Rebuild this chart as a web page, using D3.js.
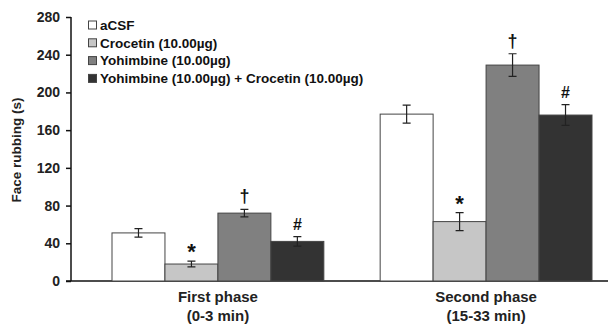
<!DOCTYPE html>
<html lang="en">
<head>
  <meta charset="UTF-8">
  <title>Face rubbing</title>
  <script src="https://d3js.org/d3.v7.min.js"></script>
  <style>
    body { margin: 0; background: #fff; }
    svg { font-family: Arial, "Liberation Sans", sans-serif; }
    .axis text { font-size: 14px; font-weight: bold; fill: #222; }
    .axis path, .axis line { stroke: #111; stroke-width: 1.5px; }
    .xlab text { font-size: 15px; font-weight: bold; fill: #222; }
    .legend text { font-size: 13.5px; font-weight: bold; fill: #111; }
  </style>
</head>
<body>
  <svg></svg>
  <script>
    const phases = ["First phase", "Second phase"];
    const phaseSub = ["(0-3 min)", "(15-33 min)"];
    const groups = ["aCSF", "Crocetin (10.00\u00b5g)", "Yohimbine (10.00\u00b5g)", "Yohimbine (10.00\u00b5g) + Crocetin (10.00\u00b5g)"];
    const colors = ["#ffffff", "#c6c6c6", "#808080", "#333333"];
    // values per group: [first phase, second phase]
    const means = [[51, 177], [18, 63], [72, 229], [42, 176]];
    const errs = [[4.5, 9.5], [3, 9.5], [4, 12], [5, 11]];
    const marks = ["", "*", "\u2020", "#"];
    const yTicks = [0, 40, 80, 120, 160, 200, 240, 280];

    const width = 608, height = 326;
    const svg = d3.select("svg").attr("width", width).attr("height", height);

    const y = d3.scaleLinear().domain([0, 280]).range([281, 17]);
    const x0 = d3.scaleBand().domain(phases).range([112, 592]).paddingInner(0.21).paddingOuter(0);
    const x1 = d3.scaleBand().domain(d3.range(groups.length)).range([0, x0.bandwidth()]);

    // y axis
    svg.append("g").attr("class", "axis").attr("transform", "translate(71,0)")
      .call(d3.axisLeft(y).tickValues(yTicks).tickSize(5).tickPadding(6).tickSizeOuter(0))
      .call(g => g.select(".domain").attr("d", "M0,281V17"));

    svg.append("text").attr("transform", "translate(21,150) rotate(-90)")
      .attr("text-anchor", "middle").style("font-size", "13.5px").style("font-weight", "bold").attr("fill", "#222")
      .text("Face rubbing (s)");

    // x baseline
    svg.append("line").attr("x1", 66).attr("x2", 608).attr("y1", y(0)).attr("y2", y(0))
      .attr("stroke", "#111").attr("stroke-width", 1.5);

    const rows = [];
    phases.forEach((p, pi) => groups.forEach((g, gi) => rows.push({ p, pi, gi, v: means[gi][pi], e: errs[gi][pi] })));

    const bar = svg.append("g").selectAll("g").data(rows).join("g")
      .attr("transform", d => `translate(${x0(d.p) + x1(d.gi)},0)`);

    bar.append("rect")
      .attr("x", 0).attr("width", x1.bandwidth())
      .attr("y", d => y(d.v)).attr("height", d => y(0) - y(d.v))
      .attr("fill", d => colors[d.gi]).attr("stroke", "#444").attr("stroke-width", 1);

    const cx = x1.bandwidth() / 2;
    bar.append("path")
      .attr("d", d => `M${cx},${y(d.v + d.e)}V${y(d.v - d.e)}M${cx - 4},${y(d.v + d.e)}H${cx + 4}M${cx - 4},${y(d.v - d.e)}H${cx + 4}`)
      .attr("stroke", "#222").attr("stroke-width", 1.2).attr("fill", "none");

    bar.append("text")
      .attr("x", cx).attr("y", d => y(d.v + d.e) - (d.gi === 1 ? 2 : 7))
      .attr("text-anchor", "middle").style("font-weight", "bold")
      .style("font-size", d => d.gi === 1 ? "22px" : d.gi === 2 ? "18px" : "16px").attr("fill", "#111")
      .text(d => marks[d.gi]);

    // x labels
    const xl = svg.append("g").attr("class", "xlab");
    phases.forEach((p, i) => {
      const c = x0(p) + x0.bandwidth() / 2;
      xl.append("text").attr("x", c).attr("y", 302).attr("text-anchor", "middle").text(p);
      xl.append("text").attr("x", c).attr("y", 321).attr("text-anchor", "middle").text(phaseSub[i]);
    });

    // legend
    const lg = svg.append("g").attr("class", "legend").selectAll("g").data(groups).join("g")
      .attr("transform", (d, i) => `translate(88,${25 + i * 17.8})`);
    lg.append("rect").attr("x", 0.5).attr("y", -4).attr("width", 8).attr("height", 8)
      .attr("fill", (d, i) => colors[i]).attr("stroke", "#444");
    lg.append("text").attr("x", 12).attr("dy", "0.35em").text(d => d);
  </script>
</body>
</html>
